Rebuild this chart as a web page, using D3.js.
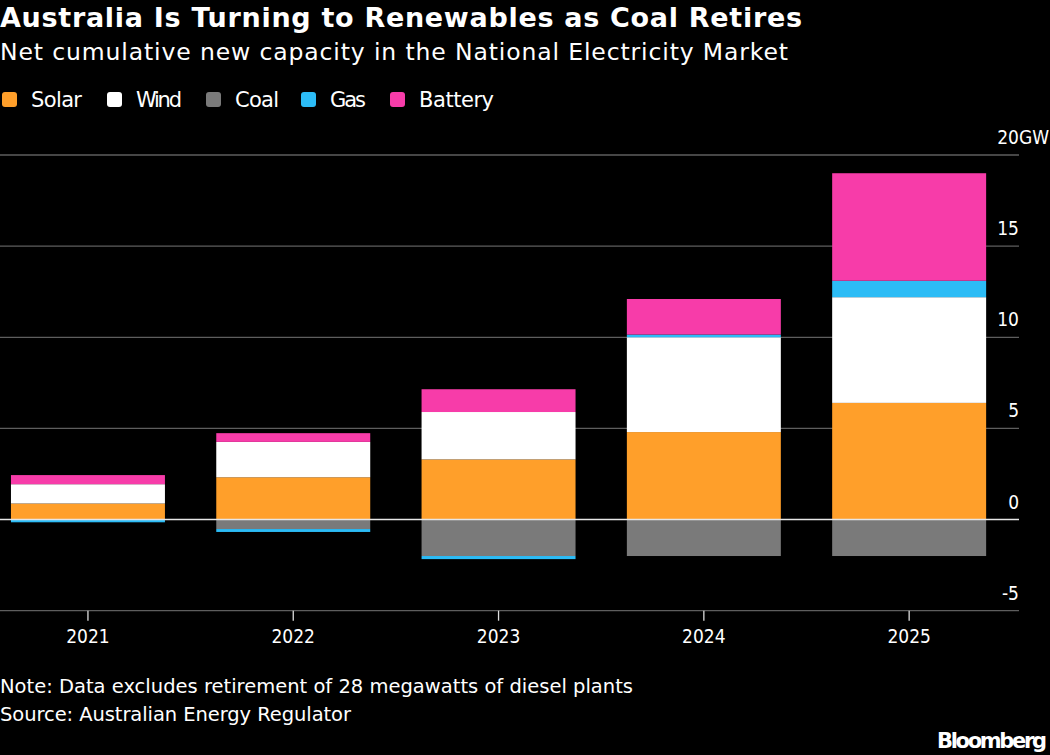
<!DOCTYPE html>
<html lang="en">
<head>
  <meta charset="UTF-8" />
  <title>Australia Is Turning to Renewables as Coal Retires</title>
  <script src="https://d3js.org/d3.v7.min.js"></script>
  <style>
    body, html { margin: 0; padding: 0; background: #000; }
    svg { display: block; font-family: "DejaVu Sans", sans-serif; }
    .num { font-family: "DejaVu Sans Condensed", "DejaVu Sans", sans-serif; }
  </style>
</head>
<body>
  <svg id="chart" width="1050" height="755"></svg>
  <script>
    // Chart data (GW)
    const years = ["2021", "2022", "2023", "2024", "2025"];
    const solar   = [0.88, 2.32, 3.3, 4.8, 6.4];
    const wind    = [1.06, 1.94, 2.6, 5.2, 5.8];
    const coal    = [0, -0.52, -2.0, -2.0, -2.0];
    const gas     = [-0.15, -0.16, -0.17, 0.15, 0.9];
    const battery = [0.5, 0.48, 1.25, 1.95, 5.9];
    const seriesNames = ["Solar", "Wind", "Coal", "Gas", "Battery"];
    const yTicks = [-5, 0, 5, 10, 15, 20];

    const colors = {
      Solar: "#ff9f2a", Wind: "#ffffff", Coal: "#7a7a7a",
      Gas: "#2cbcf6", Battery: "#f73ca9"
    };

    // build rows for d3.stack
    const rows = years.map((y, i) => ({
      year: y, Solar: solar[i], Wind: wind[i], Coal: coal[i], Gas: gas[i], Battery: battery[i]
    }));

    const svg = d3.select("#chart");

    // stretch letter spacing so text runs as wide as in the original
    function fit(sel, w) {
      return sel.attr("textLength", w).attr("lengthAdjust", "spacing");
    }

    svg.append("rect").attr("width", 1050).attr("height", 755).attr("fill", "#000");

    const x = d3.scaleBand().domain(years).range([-14.7, 1011.8])
      .paddingInner(0.25).paddingOuter(0.125);
    const y = d3.scaleLinear().domain([-5, 20]).range([610.7, 155]);

    // gridlines
    svg.append("g").selectAll("line").data(yTicks.filter(d => d !== 0)).join("line")
      .attr("x1", 0).attr("x2", 1019)
      .attr("y1", d => y(d)).attr("y2", d => y(d))
      .attr("stroke", "#5e5e5e").attr("stroke-width", 1.3);

    // y labels: number right-aligned at grid end, "GW" hangs past on top label
    svg.append("g").selectAll("text").data(yTicks).join("text")
      .attr("class", "num")
      .attr("x", 1019).attr("y", d => y(d) - 11)
      .attr("fill", "#fff").attr("font-size", 19)
      .attr("text-anchor", "end")
      .text(d => d)
      .each(function (d) {
        if (d !== 20) return;
        const t = d3.select(this);
        const w = this.getComputedTextLength();
        t.attr("text-anchor", "start").attr("x", 1019 - w).text(d + "GW");
      });

    // stacked bars
    const stack = d3.stack().keys(seriesNames).offset(d3.stackOffsetDiverging);
    const layers = stack(rows);

    svg.append("g").selectAll("g").data(layers).join("g")
      .attr("fill", d => colors[d.key])
      .selectAll("rect").data(d => d).join("rect")
      .attr("x", d => x(d.data.year))
      .attr("width", x.bandwidth())
      .attr("y", d => y(Math.max(d[0], d[1])))
      .attr("height", d => Math.abs(y(d[0]) - y(d[1])));

    // zero line on top of bars
    svg.append("line")
      .attr("x1", 0).attr("x2", 1019)
      .attr("y1", y(0)).attr("y2", y(0))
      .attr("stroke", "#e6e6e6").attr("stroke-width", 1.5);

    // x axis ticks and labels
    const xa = svg.append("g");
    xa.selectAll("line").data(years).join("line")
      .attr("x1", d => x(d) + x.bandwidth() / 2).attr("x2", d => x(d) + x.bandwidth() / 2)
      .attr("y1", y(-5)).attr("y2", y(-5) + 10)
      .attr("stroke", "#ddd").attr("stroke-width", 1.3);
    xa.selectAll("text").data(years).join("text")
      .attr("class", "num")
      .attr("x", d => x(d) + x.bandwidth() / 2).attr("y", 643)
      .attr("text-anchor", "middle").attr("fill", "#fff").attr("font-size", 19)
      .text(d => d);

    // title block
    fit(svg.append("text").attr("x", 0).attr("y", 27)
      .attr("fill", "#fff").attr("font-size", 27).attr("font-weight", "bold")
      .text("Australia Is Turning to Renewables as Coal Retires"), 802);
    fit(svg.append("text").attr("x", 0).attr("y", 60)
      .attr("fill", "#fff").attr("font-size", 23.5)
      .text("Net cumulative new capacity in the National Electricity Market"), 788);

    // legend
    const legendX = [2, 107, 206, 301, 390];
    const legendW = [51, 46, 44, 36, 75];
    const lg = svg.append("g").selectAll("g").data(seriesNames).join("g")
      .attr("transform", (d, i) => `translate(${legendX[i]},0)`);
    lg.append("rect").attr("y", 92).attr("width", 15).attr("height", 15).attr("rx", 3)
      .attr("fill", d => colors[d]);
    lg.append("text").attr("x", 29).attr("y", 107)
      .attr("fill", "#fff").attr("font-size", 21).text(d => d)
      .attr("textLength", (d, i) => legendW[i]).attr("lengthAdjust", "spacing");

    // notes
    fit(svg.append("text").attr("x", 0).attr("y", 693)
      .attr("fill", "#fff").attr("font-size", 19.5)
      .text("Note: Data excludes retirement of 28 megawatts of diesel plants"), 633);
    fit(svg.append("text").attr("x", 0).attr("y", 721)
      .attr("fill", "#fff").attr("font-size", 19.5)
      .text("Source: Australian Energy Regulator"), 351);
    fit(svg.append("text").attr("x", 937).attr("y", 748)
      .attr("fill", "#fff")
      .attr("font-size", 21).attr("font-weight", "bold")
      .text("Bloomberg"), 110);
  </script>
</body>
</html>
